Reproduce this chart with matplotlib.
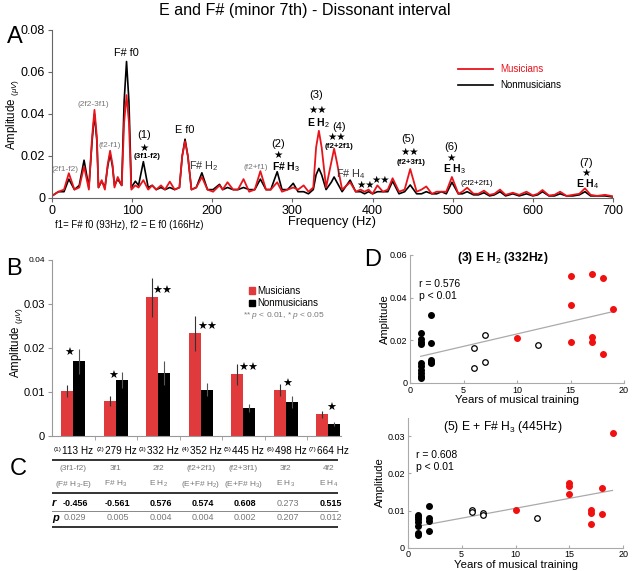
import matplotlib
matplotlib.use('Agg')
import matplotlib.pyplot as plt
from matplotlib.patches import Patch
import numpy as np

plt.rcParams['font.family'] = ['Liberation Sans', 'DejaVu Sans']
plt.rcParams['mathtext.fontset'] = 'custom'
plt.rcParams['mathtext.rm'] = 'Liberation Sans'
plt.rcParams['mathtext.it'] = 'Liberation Sans:italic'
plt.rcParams['mathtext.bf'] = 'Liberation Sans:bold'

freq = [0, 8, 15, 21, 28, 34, 40, 46,
        50, 53, 56, 58, 62, 66, 69.5, 72.5, 75.5, 78,
        82, 87, 90, 93, 96, 99, 104, 108,
        114, 120, 125, 130, 136, 141, 147, 153,
        159, 162.5, 166, 169.5, 174, 180, 187, 194,
        201, 209, 213, 219, 226, 232, 239, 246,
        253, 260, 267, 273, 281, 287, 294, 301,
        307, 314, 320, 326, 329.5, 333, 336.5, 342,
        348.5, 352, 355.5, 362, 372, 379, 385, 390,
        395, 400, 406, 413, 419, 425, 433, 440,
        447, 455, 461, 467, 474, 480, 486, 492,
        499, 507, 512, 518, 526, 532, 539, 546,
        552, 559, 566, 575, 583, 592, 600, 606,
        612, 620, 627, 634, 642, 650, 658, 665,
        672, 680, 690, 700]
amp_musicians = [0.001, 0.003, 0.004, 0.0118, 0.004, 0.005, 0.015, 0.004,
                 0.029, 0.042, 0.029, 0.005, 0.0085, 0.004, 0.016, 0.0225, 0.016, 0.005,
                 0.010, 0.006, 0.036, 0.049, 0.036, 0.004, 0.006, 0.005,
                 0.0085, 0.004, 0.006, 0.004, 0.006, 0.004, 0.0078, 0.004,
                 0.005, 0.020, 0.027, 0.020, 0.004, 0.005, 0.010, 0.004,
                 0.003, 0.006, 0.004, 0.0075, 0.004, 0.004, 0.009, 0.003,
                 0.004, 0.0128, 0.004, 0.004, 0.0075, 0.003, 0.004, 0.005,
                 0.004, 0.006, 0.003, 0.005, 0.024, 0.032, 0.024, 0.005,
                 0.017, 0.0235, 0.017, 0.004, 0.0075, 0.003, 0.004, 0.003,
                 0.004, 0.002, 0.006, 0.003, 0.004, 0.0094, 0.003, 0.004,
                 0.0138, 0.003, 0.004, 0.0055, 0.002, 0.003, 0.003, 0.003,
                 0.010, 0.002, 0.003, 0.0049, 0.002, 0.002, 0.0035, 0.0015,
                 0.002, 0.004, 0.0015, 0.0025, 0.0015, 0.003, 0.0012, 0.002,
                 0.0038, 0.0012, 0.0015, 0.003, 0.001, 0.0015, 0.002, 0.0046,
                 0.0015, 0.001, 0.0015, 0.0008]
amp_nonmusicians = [0.001, 0.003, 0.003, 0.009, 0.004, 0.006, 0.018, 0.005,
                    0.027, 0.040, 0.027, 0.005, 0.008, 0.005, 0.015, 0.021, 0.015, 0.006,
                    0.009, 0.006, 0.046, 0.065, 0.046, 0.005, 0.008, 0.006,
                    0.0173, 0.005, 0.006, 0.004, 0.005, 0.004, 0.005, 0.004,
                    0.005, 0.020, 0.028, 0.020, 0.004, 0.005, 0.012, 0.004,
                    0.004, 0.0065, 0.004, 0.005, 0.004, 0.004, 0.005, 0.004,
                    0.004, 0.009, 0.004, 0.004, 0.0125, 0.004, 0.004, 0.007,
                    0.003, 0.003, 0.002, 0.004, 0.011, 0.0141, 0.011, 0.004,
                    0.0075, 0.010, 0.0075, 0.003, 0.0085, 0.003, 0.003, 0.002,
                    0.003, 0.002, 0.003, 0.003, 0.003, 0.008, 0.002, 0.003,
                    0.0062, 0.002, 0.002, 0.003, 0.002, 0.002, 0.003, 0.002,
                    0.0075, 0.002, 0.002, 0.003, 0.0015, 0.0015, 0.0025, 0.001,
                    0.0015, 0.003, 0.001, 0.002, 0.001, 0.002, 0.001, 0.0015,
                    0.003, 0.001, 0.001, 0.002, 0.001, 0.001, 0.0015, 0.003,
                    0.001, 0.001, 0.001, 0.0005]

# --- panel B: bar chart ---
bar_labels = ['113', '279', '332', '352', '445', '498', '664']
bar_musicians = [0.0103, 0.0080, 0.0315, 0.0233, 0.0140, 0.0104, 0.0049]
err_musicians = [0.0014, 0.0011, 0.0045, 0.0039, 0.0023, 0.0014, 0.0008]
bar_nonmusicians = [0.0170, 0.0127, 0.0144, 0.0105, 0.0064, 0.0077, 0.0027]
err_nonmusicians = [0.0028, 0.0018, 0.0027, 0.0015, 0.0009, 0.0014, 0.0005]
bar_sig = ['★', '★', '★★', '★★', '★★', '★', '★']
musicians_higher = [False, False, True, True, True, True, True]

# --- panel C: table ---
comp_formula = ['(3f1-f2)', '3f1', '2f2', '(f2+2f1)', '(f2+3f1)', '3f2', '4f2']
comp_name = ['(F# H$_3$-E)', 'F# H$_3$', 'E H$_2$', '(E+F# H$_2$)',
             '(E+F# H$_3$)', 'E H$_3$', 'E H$_4$']
r_values = ['-0.456', '-0.561', '0.576', '0.574', '0.608', '0.273', '0.515']
p_values = ['0.029', '0.005', '0.004', '0.004', '0.002', '0.207', '0.012']
r_significant = [True, True, True, True, True, False, True]

# --- panel D: scatter, (3) E H2 ---
d1_mus_years = [10, 15, 15, 15, 17, 17, 17, 18, 18, 19]
d1_mus_amp = [0.021, 0.0193, 0.0364, 0.050, 0.0215, 0.0193, 0.051, 0.0137, 0.049, 0.0348]
d1_open_years = [6, 6, 7, 7, 12]
d1_open_amp = [0.0166, 0.0071, 0.0224, 0.0099, 0.0176]
d1_non_years = [1, 1, 1, 1, 1, 1, 1, 1, 1, 1, 2, 2, 2, 2, 2]
d1_non_amp = [0.0233, 0.0205, 0.0193, 0.0182, 0.0096, 0.0078, 0.0062, 0.0047, 0.0033, 0.0024,
              0.0317, 0.0188, 0.0106, 0.0099, 0.0092]
d1_fit_years = [1, 19]
d1_fit_amp = [0.0125, 0.0335]

# --- panel D: scatter, (5) E + F# H3 ---
d2_mus_years = [10, 15, 15, 15, 17, 17, 17, 18, 18, 19]
d2_mus_amp = [0.0101, 0.0173, 0.0166, 0.0144, 0.0101, 0.0093, 0.0064, 0.0161, 0.0090, 0.0309]
d2_open_years = [6, 6, 7, 7, 12]
d2_open_amp = [0.0102, 0.0096, 0.0093, 0.0089, 0.0079]
d2_non_years = [1, 1, 1, 1, 1, 1, 1, 2, 2, 2, 2]
d2_non_amp = [0.0088, 0.0082, 0.0076, 0.0070, 0.0057, 0.0040, 0.0034,
              0.0113, 0.0080, 0.0071, 0.0044]
d2_fit_years = [1, 19]
d2_fit_amp = [0.0058, 0.0154]

RED = '#e8141c'
BAR_RED = '#e03a3c'
GRAY = '#777'
W, H = 640, 571

fig = plt.figure(figsize=(W / 100, H / 100), dpi=100)


def px_axes(left, top, right, bottom):
    return fig.add_axes([left / W, 1 - bottom / H, (right - left) / W, (bottom - top) / H])


def clean(ax, color='#666'):
    ax.spines['top'].set_visible(False)
    ax.spines['right'].set_visible(False)
    ax.spines['left'].set_color(color)
    ax.spines['bottom'].set_color(color)
    ax.tick_params(colors=color, labelcolor='black')


fig.text(305 / W, 1 - 11 / H, 'E and F# (minor 7th) - Dissonant interval',
         ha='center', va='center', fontsize=11.6)
for letter, x, y in [('A', 15, 37), ('B', 14, 269), ('C', 18, 469), ('D', 373, 260)]:
    fig.text(x / W, 1 - y / H, letter, ha='center', va='center', fontsize=17)

# panel A
ax_a = px_axes(52, 30, 613, 198)
clean(ax_a)
ax_a.plot(freq, amp_nonmusicians, color='black', lw=1.2, label='Nonmusicians')
ax_a.plot(freq, amp_musicians, color=RED, lw=1.3, label='Musicians')
ax_a.set_xlim(0, 700)
ax_a.set_ylim(0, 0.08)
ax_a.set_xticks(range(0, 701, 100))
ax_a.set_yticks([0, 0.02, 0.04, 0.06, 0.08])
ax_a.set_yticklabels(['0', '0.02', '0.04', '0.06', '0.08'])
ax_a.tick_params(labelsize=9, length=3, pad=2)
ax_a.set_xlabel('Frequency (Hz)', fontsize=9.2)
ax_a.xaxis.set_label_coords(0.5, -0.105)
ax_a.set_ylabel(r'Amplitude $_{(\mu V)}$', fontsize=8.3)
ax_a.yaxis.set_label_coords(-0.055, 0.5)
handles, labels = ax_a.get_legend_handles_labels()
leg = ax_a.legend(handles[::-1], labels[::-1], loc='upper left', bbox_to_anchor=(0.717, 0.82),
                  frameon=False, fontsize=7, handlelength=3.6, handletextpad=0.7,
                  labelspacing=0.65, borderaxespad=0)
leg.get_texts()[0].set_color(RED)

a_notes = [
    ('F# f0', 92.5, 0.0689, 7.8, 'normal', 'black'),
    ('(2f2-3f1)', 51.7, 0.0443, 6, 'normal', GRAY),
    ('(f2-f1)', 72.5, 0.0248, 6, 'normal', GRAY),
    ('(2f1-f2)', 16.5, 0.0137, 6, 'normal', GRAY),
    ('(1)', 115, 0.0300, 8, 'normal', 'black'),
    ('★', 115, 0.0240, 7.5, 'normal', 'black'),
    ('(3f1-f2)', 119, 0.0200, 5.8, 'bold', 'black'),
    ('E f0', 166, 0.0324, 7.8, 'normal', 'black'),
    ('F# H$_2$', 190, 0.0152, 7.8, 'normal', '#333'),
    ('(f2+f1)', 254, 0.0146, 6, 'normal', GRAY),
    ('(2)', 282, 0.0257, 8, 'normal', 'black'),
    ('★', 282, 0.0205, 7.5, 'normal', 'black'),
    ('F# H$_3$', 292, 0.0146, 7.5, 'bold', 'black'),
    ('(3)', 329, 0.0490, 8, 'normal', 'black'),
    ('★★', 331, 0.0417, 7.5, 'normal', 'black'),
    ('E H$_2$', 332, 0.0358, 7.5, 'bold', 'black'),
    ('(4)', 358, 0.0337, 8, 'normal', 'black'),
    ('★★', 355, 0.0292, 7.5, 'normal', 'black'),
    ('(f2+2f1)', 357.5, 0.0244, 5.8, 'bold', 'black'),
    ('F# H$_4$', 373, 0.0116, 7.8, 'normal', '#333'),
    ('★★', 391, 0.0062, 7.5, 'normal', 'black'),
    ('★★', 410, 0.0086, 7.5, 'normal', 'black'),
    ('(5)', 444.6, 0.0280, 8, 'normal', 'black'),
    ('★★', 446, 0.0220, 7.5, 'normal', 'black'),
    ('(f2+3f1)', 448, 0.0168, 5.8, 'bold', 'black'),
    ('(6)', 498, 0.0241, 8, 'normal', 'black'),
    ('★', 498, 0.0192, 7.5, 'normal', 'black'),
    ('E H$_3$', 501.7, 0.0137, 7.5, 'bold', 'black'),
    ('(2f2+2f1)', 529.6, 0.0070, 5.8, 'normal', 'black'),
    ('(7)', 666, 0.0165, 8, 'normal', 'black'),
    ('★', 666, 0.0118, 7.5, 'normal', 'black'),
    ('E H$_4$', 668, 0.0065, 7.5, 'bold', 'black'),
]
for txt, x, y, size, weight, color in a_notes:
    ax_a.text(x, y, txt, ha='center', va='center', fontsize=size, fontweight=weight,
              color=color)
fig.text(55 / W, 1 - 225 / H, 'f1= F# f0 (93Hz), f2 = E f0 (166Hz)', ha='left',
         va='center', fontsize=6.9)

# panel B
ax_b = px_axes(52, 260, 341, 436)
clean(ax_b, '#999')
xpos = np.arange(1, len(bar_labels) + 1)
bw = 0.28
ax_b.bar(xpos - bw / 2, bar_musicians, bw, color=BAR_RED)
ax_b.bar(xpos + bw / 2, bar_nonmusicians, bw, color='black')
ax_b.errorbar(xpos - bw / 2, bar_musicians, yerr=err_musicians, fmt='none',
              ecolor='#333', elinewidth=0.8, capsize=0)
ax_b.errorbar(xpos + bw / 2, bar_nonmusicians, yerr=err_nonmusicians, fmt='none',
              ecolor='#555', elinewidth=0.8, capsize=0)
sig_dx = [-0.09, -0.05, 0.09, 0.15, 0.12, 0.04, 0.07]
for i, s in enumerate(bar_sig):
    if musicians_higher[i]:
        y = bar_musicians[i] + 0.0015
    else:
        y = bar_nonmusicians[i] + err_nonmusicians[i] - 0.0009
    ax_b.text(xpos[i] + sig_dx[i], y, s, ha='center', va='center', fontsize=8)
ax_b.set_xlim(0.5, 7.3)
ax_b.set_ylim(0, 0.04)
ax_b.set_xticks(xpos)
ax_b.set_xticklabels([])
ax_b.set_xticks(np.arange(1.5, 7.5, 1), minor=True)
ax_b.tick_params(axis='x', which='major', length=0)
ax_b.tick_params(axis='x', which='minor', length=3, color='#999')
ax_b.set_yticks([0, 0.01, 0.02, 0.03, 0.04])
ax_b.set_yticklabels(['0', '0.01', '0.02', '0.03', '0.04'])
ax_b.tick_params(axis='y', labelsize=8, length=3, pad=2)
ax_b.get_yticklabels()[-1].set_fontsize(6)
ax_b.set_ylabel(r'Amplitude $_{(\mu V)}$', fontsize=8.3)
ax_b.yaxis.set_label_coords(-0.093, 0.534)
ax_b.legend(handles=[Patch(color=BAR_RED, label='Musicians'),
                     Patch(color='black', label='Nonmusicians')],
            loc='upper left', bbox_to_anchor=(0.668, 0.875), frameon=False, fontsize=7,
            handlelength=0.6, handleheight=0.6, handletextpad=0.3, labelspacing=0.24,
            borderaxespad=0)
ax_b.text(0.661, 0.682, r'** $p$ < 0.01, * $p$ < 0.05', transform=ax_b.transAxes,
          ha='left', va='center', fontsize=6, color=GRAY)

# panel C (table under B, same x scale, y in pixels)
ax_c = px_axes(52, 443, 341, 530)
ax_c.set_xlim(0.5, 7.3)
ax_c.set_ylim(530, 443)
ax_c.axis('off')
for i, lab in enumerate(bar_labels):
    anchor = xpos[i] - 0.27
    ax_c.text(anchor, 449.5, '(%d)' % (i + 1), ha='right', va='center', fontsize=4.6)
    ax_c.text(anchor + 0.01, 451, lab + ' Hz', ha='left', va='center', fontsize=7.2)
ax_c.hlines([460, 493, 526.5], 0.45, 7.23, color='#333', lw=1.4)
ax_c.hlines([510.5], 0.45, 7.23, color='#888', lw=0.7)
for i in range(len(bar_labels)):
    ax_c.text(xpos[i], 469, comp_formula[i], ha='center', va='center', fontsize=6, color=GRAY)
    ax_c.text(xpos[i], 484, comp_name[i], ha='center', va='center', fontsize=6, color=GRAY)
    ax_c.text(xpos[i] + 0.05, 503, r_values[i], ha='center', va='center', fontsize=6.5,
              fontweight='bold' if r_significant[i] else 'normal',
              color='black' if r_significant[i] else GRAY)
    ax_c.text(xpos[i] + 0.05, 518, p_values[i], ha='center', va='center', fontsize=6.5,
              color=GRAY)
ax_c.text(0.5, 503, 'r', ha='left', va='center', fontsize=8, fontstyle='italic',
          fontweight='bold')
ax_c.text(0.5, 518, 'p', ha='left', va='center', fontsize=8, fontstyle='italic',
          fontweight='bold')


# panel D
def scatter_panel(ax, mus_x, mus_y, open_x, open_y, non_x, non_y, fit_x, fit_y,
                  ymax, yticks, title, bold, title_xy, r_text, r_y, ylab_x, xlab_y):
    clean(ax, '#aaa')
    ax.plot(fit_x, fit_y, color='#aaa', lw=0.9, zorder=1)
    ax.scatter(non_x, non_y, s=16, color='black', zorder=3)
    ax.scatter(open_x, open_y, s=16, facecolor='white', edgecolor='black', lw=0.9, zorder=3)
    ax.scatter(mus_x, mus_y, s=16, color='#f01010', zorder=3)
    ax.set_xlim(0, 20)
    ax.set_ylim(0, ymax)
    ax.set_xticks([0, 5, 10, 15, 20])
    ax.set_yticks(yticks)
    ax.set_yticklabels(['0'] + ['%g' % t for t in yticks[1:]])
    ax.tick_params(labelsize=6.5, length=2, direction='in', pad=2)
    ax.set_xlabel('Years of musical training', fontsize=8.2)
    ax.xaxis.set_label_coords(0.5, xlab_y)
    ax.set_ylabel('Amplitude', fontsize=8)
    ax.yaxis.set_label_coords(ylab_x, 0.5)
    ax.text(title_xy[0], title_xy[1], title, transform=ax.transAxes, ha='center',
            va='center', fontsize=8.7, fontweight='bold' if bold else 'normal')
    ax.text(0.04, r_y, r_text + '\np < 0.01', transform=ax.transAxes, ha='left',
            va='center', fontsize=7.5, linespacing=1.3)


ax_d1 = px_axes(410, 255, 624, 383)
scatter_panel(ax_d1, d1_mus_years, d1_mus_amp, d1_open_years, d1_open_amp,
              d1_non_years, d1_non_amp, d1_fit_years, d1_fit_amp,
              0.06, [0, 0.02, 0.04, 0.06], '(3) E H$_2$ (332Hz)', True, (0.435, 0.977),
              'r = 0.576', 0.727, -0.093, -0.095)
ax_d2 = px_axes(407.7, 417.5, 623.3, 547.7)
scatter_panel(ax_d2, d2_mus_years, d2_mus_amp, d2_open_years, d2_open_amp,
              d2_non_years, d2_non_amp, d2_fit_years, d2_fit_amp,
              0.035, [0, 0.01, 0.02, 0.03], '(5) E + F# H$_3$ (445Hz)', False, (0.442, 0.927),
              'r = 0.608', 0.666, -0.105, -0.095)

fig.savefig('out.png', dpi=100)
